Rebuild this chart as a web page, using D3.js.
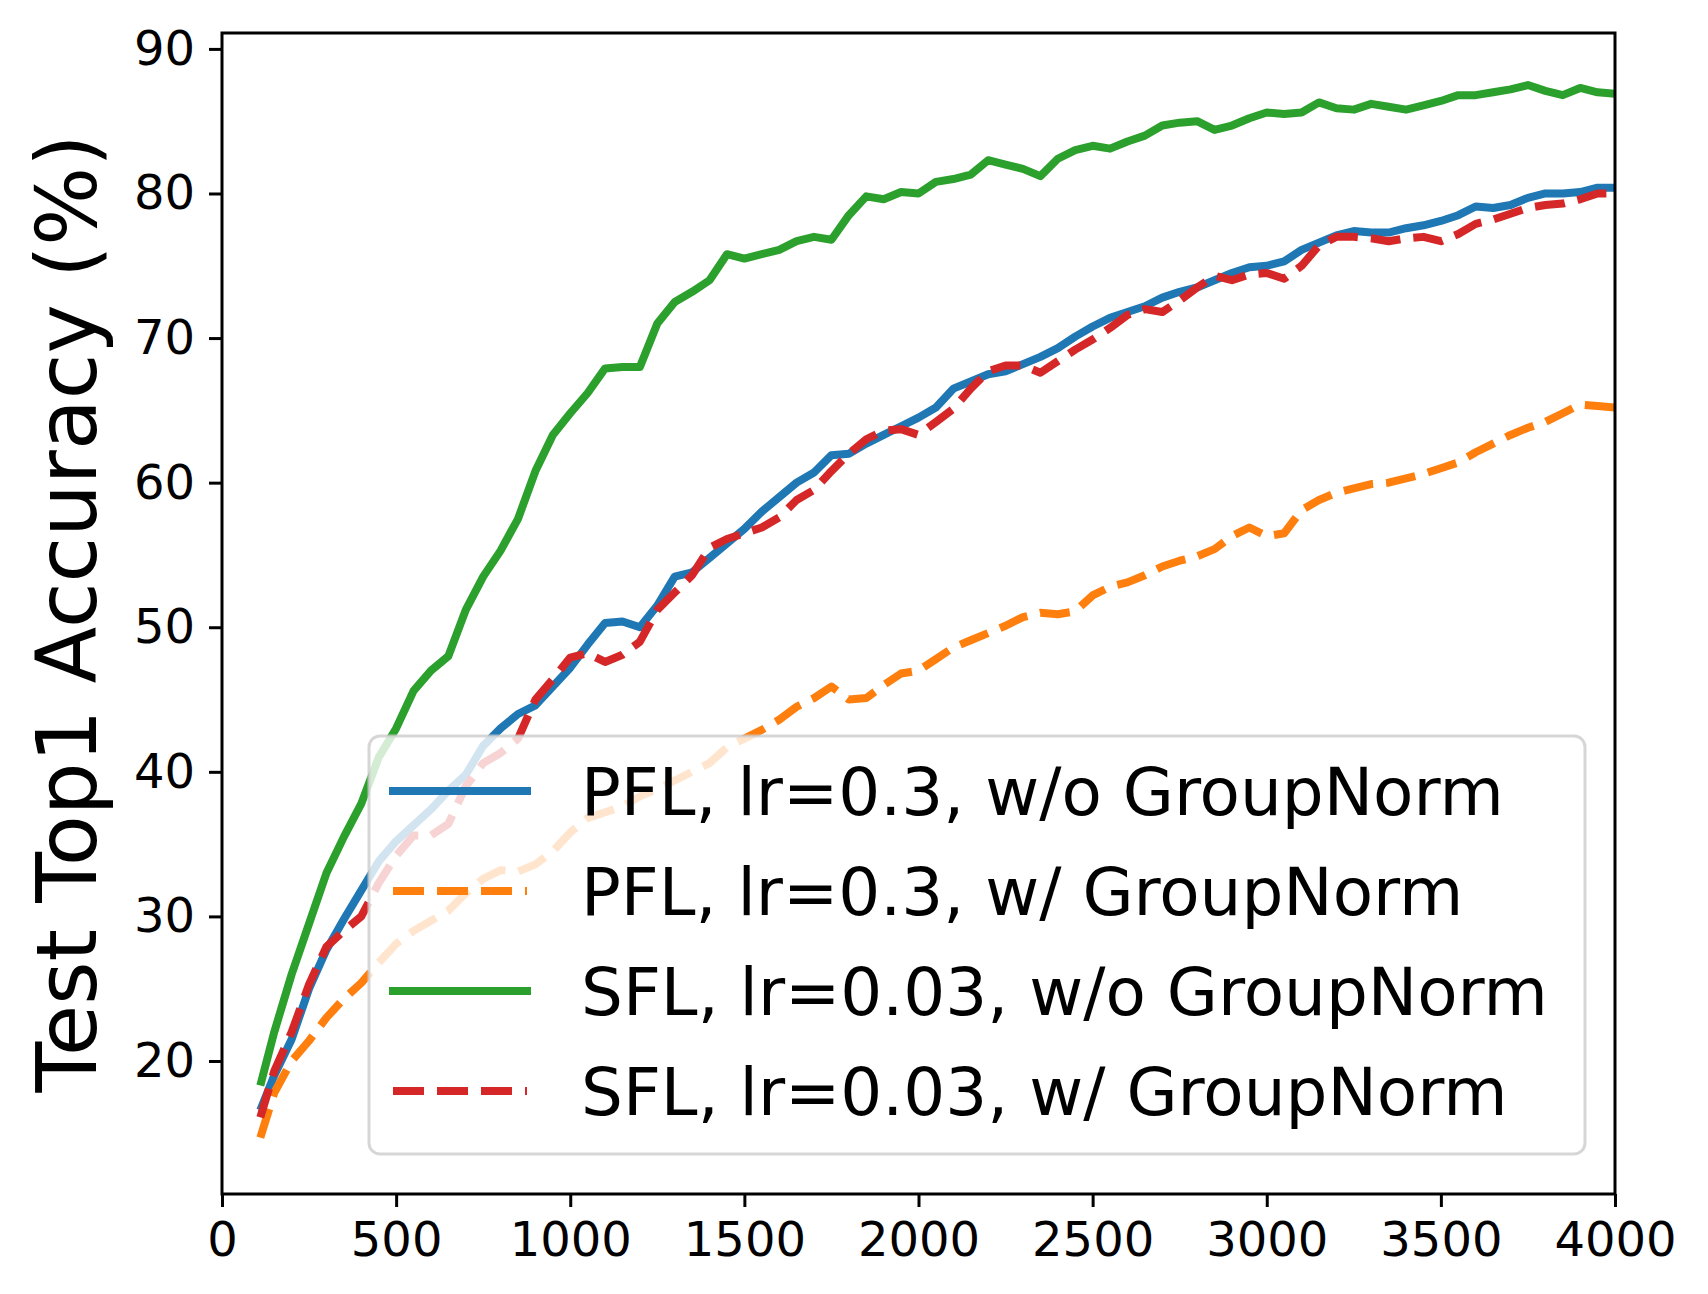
<!DOCTYPE html>
<html>
<head>
<meta charset="utf-8">
<script src="https://cdn.jsdelivr.net/npm/d3@7"></script>
<style>
  body { margin: 0; background: #fff; }
  svg { display: block; font-family: "DejaVu Sans", sans-serif; }
</style>
</head>
<body>
<div class="box"></div>
<script>
// training steps (shared by every run)
var steps = [110, 150, 200, 250, 300, 350, 400, 450, 500, 550, 600, 650, 700, 750, 800, 850, 900, 950,
  1000, 1050, 1100, 1150, 1200, 1250, 1300, 1350, 1400, 1450, 1500, 1550, 1600, 1650, 1700, 1750, 1800, 1850, 1900, 1950,
  2000, 2050, 2100, 2150, 2200, 2250, 2300, 2350, 2400, 2450, 2500, 2550, 2600, 2650, 2700, 2750, 2800, 2850, 2900, 2950,
  3000, 3050, 3100, 3150, 3200, 3250, 3300, 3350, 3400, 3450, 3500, 3550, 3600, 3650, 3700, 3750, 3800, 3850, 3900, 3950, 4000];

// PFL, lr=0.3, w/o GroupNorm
var pflNoGN = [16.6, 19.0, 21.5, 25.0, 27.7, 29.8, 31.8, 33.8, 35.2, 36.3, 37.4, 38.7, 39.8, 41.8, 43.0, 44.0, 44.6, 45.9,
  47.2, 48.8, 50.3, 50.4, 50.0, 51.5, 53.5, 53.8, 54.8, 55.8, 56.8, 58.0, 59.0, 60.0, 60.7, 61.9, 62.0, 62.7, 63.3, 63.9,
  64.5, 65.2, 66.5, 67.0, 67.5, 67.7, 68.2, 68.7, 69.3, 70.1, 70.8, 71.4, 71.8, 72.2, 72.8, 73.2, 73.5, 74.0, 74.5, 74.9,
  75.0, 75.3, 76.1, 76.6, 77.1, 77.4, 77.3, 77.3, 77.6, 77.8, 78.1, 78.5, 79.1, 79.0, 79.2, 79.7, 80.0, 80.0, 80.1, 80.4, 80.4];

// PFL, lr=0.3, w/ GroupNorm
var pflGN = [14.7, 17.8, 20.0, 21.4, 23.0, 24.3, 25.4, 26.8, 28.1, 29.0, 29.7, 30.4, 31.6, 32.6, 33.2, 33.1, 33.6, 34.5,
  35.8, 36.8, 37.2, 37.6, 38.3, 38.8, 39.4, 40.0, 40.6, 41.7, 42.3, 42.9, 43.6, 44.5, 45.1, 45.9, 45.0, 45.1, 46.0, 46.8,
  47.0, 47.8, 48.6, 49.1, 49.6, 50.1, 50.7, 51.0, 50.9, 51.1, 52.2, 52.8, 53.1, 53.6, 54.2, 54.6, 54.9, 55.4, 56.3, 56.9,
  56.3, 56.5, 58.1, 58.8, 59.3, 59.6, 59.9, 60.0, 60.3, 60.6, 61.0, 61.4, 62.1, 62.7, 63.3, 63.8, 64.2, 64.8, 65.4, 65.3, 65.2];

// SFL, lr=0.03, w/o GroupNorm
var sflNoGN = [18.3, 22.0, 26.0, 29.5, 33.0, 35.5, 37.8, 41.0, 43.0, 45.6, 47.0, 48.0, 51.2, 53.5, 55.3, 57.5, 60.8, 63.3,
  64.8, 66.2, 67.9, 68.0, 68.0, 71.0, 72.5, 73.2, 74.0, 75.8, 75.5, 75.8, 76.1, 76.7, 77.0, 76.8, 78.5, 79.8, 79.6, 80.1,
  80.0, 80.8, 81.0, 81.3, 82.3, 82.0, 81.7, 81.2, 82.4, 83.0, 83.3, 83.1, 83.6, 84.0, 84.7, 84.9, 85.0, 84.4, 84.7, 85.2,
  85.6, 85.5, 85.6, 86.3, 85.9, 85.8, 86.2, 86.0, 85.8, 86.1, 86.4, 86.8, 86.8, 87.0, 87.2, 87.5, 87.1, 86.8, 87.3, 87.0, 86.9];

// SFL, lr=0.03, w/ GroupNorm
var sflGN = [16.1, 19.3, 22.0, 25.3, 27.9, 29.0, 30.0, 32.3, 34.2, 35.6, 35.6, 36.4, 39.0, 40.6, 41.3, 42.3, 45.0, 46.4,
  47.9, 48.2, 47.6, 48.1, 49.0, 51.2, 52.4, 53.6, 55.5, 56.1, 56.5, 56.9, 57.6, 58.8, 59.5, 60.8, 62.0, 63.0, 63.6, 63.7,
  63.3, 64.2, 65.1, 66.5, 67.7, 68.1, 68.1, 67.6, 68.4, 69.2, 69.9, 70.7, 71.6, 72.0, 71.8, 72.6, 73.5, 74.3, 74.0, 74.4,
  74.5, 74.1, 75.0, 76.4, 77.0, 77.0, 76.9, 76.7, 76.9, 77.0, 76.7, 77.2, 77.9, 78.2, 78.6, 79.0, 79.2, 79.3, 79.6, 80.0, 80.0];

var labels = ["PFL, lr=0.3, w/o GroupNorm", "PFL, lr=0.3, w/ GroupNorm", "SFL, lr=0.03, w/o GroupNorm", "SFL, lr=0.03, w/ GroupNorm"];
var xTicks = [0, 500, 1000, 1500, 2000, 2500, 3000, 3500, 4000];
var yTicks = [20, 30, 40, 50, 60, 70, 80, 90];

var series = [
  { name: labels[0], values: pflNoGN, color: "#1f77b4", dashed: false },
  { name: labels[1], values: pflGN, color: "#ff7f0e", dashed: true },
  { name: labels[2], values: sflNoGN, color: "#2ca02c", dashed: false },
  { name: labels[3], values: sflGN, color: "#d62728", dashed: true }
];

width = 1708;
height = 1294;
margin = { top: 33, right: 93, bottom: 100, left: 222 };
var lw = 8;
var dash = "30,13";

var x = d3.scaleLinear().domain([0, 4000]).range([margin.left, width - margin.right]);
var y = d3.scaleLinear().domain([10.8, 91.1]).range([height - margin.bottom, margin.top]);

const svg = d3.create("svg")
  .attr("width", width)
  .attr("height", height)
  .attr("viewBox", [0, 0, width, height]);

svg.append("defs").append("clipPath").attr("id", "plotclip")
  .append("rect")
  .attr("x", margin.left).attr("y", margin.top)
  .attr("width", x.range()[1] - margin.left)
  .attr("height", y.range()[0] - margin.top);

var line = d3.line()
  .x((d, i) => x(steps[i]))
  .y(d => y(d));

svg.append("g")
  .attr("clip-path", "url(#plotclip)")
  .attr("fill", "none")
  .selectAll("path")
  .data(series)
  .join("path")
  .attr("stroke", d => d.color)
  .attr("stroke-width", lw)
  .attr("stroke-linejoin", "round")
  .attr("stroke-dasharray", d => d.dashed ? dash : null)
  .attr("d", d => line(d.values));

// axes
var xAxis = svg.append("g")
  .attr("transform", `translate(0,${y.range()[0]})`)
  .call(d3.axisBottom(x).tickValues(xTicks).tickSize(13).tickPadding(14).tickFormat(d3.format("d")));
var yAxis = svg.append("g")
  .attr("transform", `translate(${margin.left},0)`)
  .call(d3.axisLeft(y).tickValues(yTicks).tickSize(13).tickPadding(14));

[xAxis, yAxis].forEach(function (g) {
  g.select(".domain").remove();
  g.selectAll(".tick line").attr("stroke", "#000").attr("stroke-width", 3);
  g.selectAll(".tick text").attr("fill", "#000").attr("font-size", 48).attr("font-family", "DejaVu Sans");
});
xAxis.selectAll(".tick text").attr("dy", "0.72em");

// frame
svg.append("rect")
  .attr("x", margin.left).attr("y", margin.top)
  .attr("width", x.range()[1] - margin.left)
  .attr("height", y.range()[0] - margin.top)
  .attr("fill", "none")
  .attr("stroke", "#000")
  .attr("stroke-width", 3);

// y label
svg.append("text")
  .attr("transform", `translate(96,${(margin.top + y.range()[0]) / 2}) rotate(-90)`)
  .attr("text-anchor", "middle")
  .attr("font-size", 83)
  .attr("fill", "#000")
  .text("Test Top1 Accuracy (%)");

// legend
var lg = svg.append("g");
lg.append("rect")
  .attr("x", 369).attr("y", 736)
  .attr("width", 1585 - 369).attr("height", 1154 - 736)
  .attr("rx", 11)
  .attr("fill", "#fff").attr("fill-opacity", 0.8)
  .attr("stroke", "#cccccc").attr("stroke-opacity", 0.8)
  .attr("stroke-width", 3);

var rows = lg.selectAll("g.row")
  .data(series)
  .join("g")
  .attr("class", "row")
  .attr("transform", (d, i) => `translate(0,${791 + i * 100})`);

rows.append("line")
  .attr("x1", d => d.dashed ? 393 : 389)
  .attr("x2", d => d.dashed ? 527 : 531)
  .attr("stroke", d => d.color)
  .attr("stroke-width", lw)
  .attr("stroke-dasharray", d => d.dashed ? "31,13" : null);

rows.append("text")
  .attr("x", 581)
  .attr("y", 24)
  .attr("font-size", 66)
  .attr("fill", "#000")
  .text(d => d.name);

document.querySelector(".box").appendChild(svg.node());
</script>
</body>
</html>
